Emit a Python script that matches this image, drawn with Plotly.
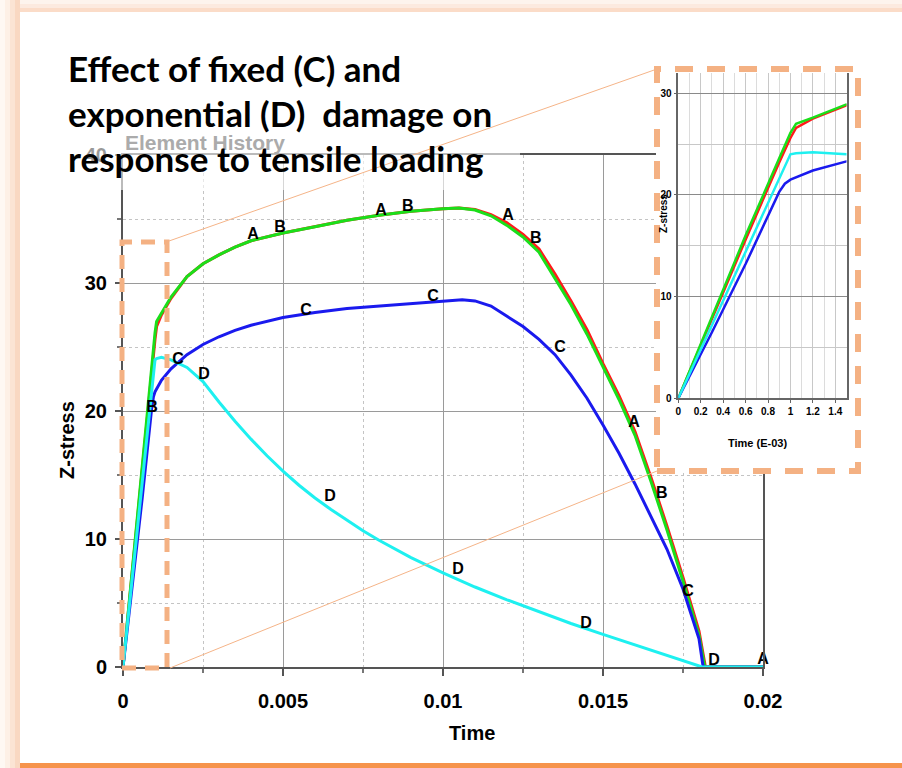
import plotly.graph_objects as go

W, H = 902, 768
FONT = "Liberation Sans, Arial, sans-serif"
NARROW = "Liberation Sans Narrow, Arial Narrow, Liberation Sans, Arial, sans-serif"

# ---------------- data (time in s, Z-stress) ----------------
t_A = [0, 0.0003, 0.0006, 0.0009, 0.001, 0.00105, 0.0012, 0.0015, 0.002, 0.0025, 0.003,
       0.0035, 0.004, 0.005, 0.006, 0.007, 0.008, 0.009, 0.01, 0.0105, 0.011, 0.0115,
       0.012, 0.0125, 0.013, 0.0135, 0.014, 0.0145, 0.015, 0.0155, 0.016, 0.0165, 0.017,
       0.0175, 0.018, 0.0181, 0.0182, 0.02]
z_A = [0, 7.8, 15.6, 23.2, 25.6, 26.6, 27.5, 28.8, 30.5, 31.5, 32.2,
       32.8, 33.3, 33.9, 34.4, 34.9, 35.3, 35.6, 35.8, 35.85, 35.75, 35.35,
       34.7, 33.8, 32.65, 30.7, 28.6, 26.35, 23.7, 21.2, 18.4, 14.8, 11.0,
       7.0, 2.8, 1.4, 0, 0]

t_B = [0, 0.0003, 0.0006, 0.0009, 0.001, 0.00105, 0.0012, 0.0015, 0.002, 0.0025, 0.003,
       0.0035, 0.004, 0.005, 0.006, 0.007, 0.008, 0.009, 0.01, 0.0105, 0.011, 0.0115,
       0.012, 0.0125, 0.013, 0.0135, 0.014, 0.0145, 0.015, 0.0155, 0.016, 0.0165, 0.017,
       0.0175, 0.018, 0.0181, 0.01818, 0.02]
z_B = [0, 8.0, 16.0, 23.6, 26.1, 27.0, 27.6, 28.9, 30.5, 31.5, 32.2,
       32.8, 33.3, 33.9, 34.4, 34.9, 35.3, 35.6, 35.8, 35.85, 35.7, 35.25,
       34.5, 33.6, 32.4, 30.4, 28.3, 26.0, 23.4, 20.9, 18.1, 14.5, 10.7,
       6.7, 2.5, 1.2, 0, 0]

t_C = [0, 0.0003, 0.0006, 0.0009, 0.00095, 0.001, 0.0012, 0.0015, 0.002, 0.0025, 0.003,
       0.0035, 0.004, 0.005, 0.006, 0.007, 0.008, 0.009, 0.01, 0.0106, 0.011, 0.0115,
       0.012, 0.0125, 0.013, 0.0135, 0.014, 0.0145, 0.015, 0.0155, 0.016, 0.0165, 0.017,
       0.0175, 0.018, 0.01813, 0.02]
z_C = [0, 6.5, 13.2, 20.3, 21.1, 21.5, 22.4, 23.3, 24.4, 25.2, 25.8,
       26.3, 26.7, 27.3, 27.7, 28.0, 28.2, 28.4, 28.6, 28.7, 28.6, 28.2,
       27.4, 26.6, 25.6, 24.4, 22.8, 21.0, 18.9, 16.7, 14.3, 11.8, 9.2,
       6.1, 2.2, 0, 0]

t_D = [0, 0.0003, 0.0006, 0.0009, 0.001, 0.00105, 0.0012, 0.0015, 0.002, 0.0025, 0.003,
       0.0035, 0.004, 0.0045, 0.005, 0.0055, 0.006, 0.0065, 0.007, 0.0075, 0.008, 0.009,
       0.01, 0.011, 0.012, 0.013, 0.014, 0.015, 0.016, 0.017, 0.018, 0.0181, 0.02]
z_D = [0, 7.2, 14.5, 21.7, 24.0, 24.1, 24.2, 24.0, 23.4, 22.3, 20.7,
       19.2, 17.8, 16.5, 15.3, 14.2, 13.2, 12.3, 11.45, 10.65, 9.9, 8.55,
       7.35, 6.25, 5.25, 4.3, 3.4, 2.55, 1.72, 0.88, 0.05, 0, 0]

# curve identification letters placed along each curve
lab_A_t = [0.00406, 0.00806, 0.01203, 0.01597, 0.02]
lab_A_z = [33.75, 35.6, 35.2, 19.1, 0.55]
lab_B_t = [0.00491, 0.0089, 0.0129, 0.00091, 0.01684]
lab_B_z = [34.3, 35.9, 33.4, 20.2, 13.5]
lab_C_t = [0.00572, 0.00969, 0.01366, 0.00172, 0.01766]
lab_C_z = [27.8, 28.9, 24.9, 24.0, 5.86]
lab_D_t = [0.00253, 0.00647, 0.01047, 0.01447, 0.01847]
lab_D_z = [22.8, 13.3, 7.6, 3.36, 0.47]

x_ticks = [0, 0.005, 0.01, 0.015, 0.02]
x_ticktext = ["0", "0.005", "0.01", "0.015", "0.02"]
y_ticks = [0, 10, 20, 30, 40]
y_ticktext = ["0", "10", "20", "30", "40"]

inset_x_ticks = [0, 0.2, 0.4, 0.6, 0.8, 1.0, 1.2, 1.4]
inset_x_ticktext = ["0", "0.2", "0.4", "0.6", "0.8", "1", "1.2", "1.4"]
inset_y_ticks = [0, 10, 20, 30]
inset_y_ticktext = ["0", "10", "20", "30"]

series = [("A", t_A, z_A, "#ff1a1a"), ("B", t_B, z_B, "#1adf1a"),
          ("C", t_C, z_C, "#1a1aee"), ("D", t_D, z_D, "#1ef0f0")]
labels = [("A", lab_A_t, lab_A_z), ("B", lab_B_t, lab_B_z),
          ("C", lab_C_t, lab_C_z), ("D", lab_D_t, lab_D_z)]


def px(x):
    return x / W


def py(y):
    return 1 - y / H


fig = go.Figure()

# main plot curves
for name, t, z, col in series:
    fig.add_trace(go.Scatter(x=t, y=z, mode="lines", name=name,
                             line=dict(color=col, width=3),
                             cliponaxis=False, hoverinfo="skip",
                             xaxis="x", yaxis="y"))
for name, t, z in labels:
    fig.add_trace(go.Scatter(x=t, y=z, mode="text", text=[name] * len(t),
                             textposition="middle center", cliponaxis=False,
                             textfont=dict(family=FONT, size=16, color="black", weight="bold"),
                             hoverinfo="skip", xaxis="x", yaxis="y"))

# white cover behind the inset
fig.add_trace(go.Scatter(x=[None], y=[None], mode="lines", xaxis="x2", yaxis="y2",
                         hoverinfo="skip"))

# inset curves (time in E-03)
for name, t, z, col in series:
    fig.add_trace(go.Scatter(x=[v * 1000 for v in t], y=z, mode="lines", name=name,
                             line=dict(color=col, width=2.5), hoverinfo="skip",
                             xaxis="x3", yaxis="y3"))

tickfont = dict(family=FONT, size=20, color="black", weight="bold")
inset_tickfont = dict(family=NARROW, size=10, color="black", weight="bold")

fig.update_layout(
    width=W, height=H, margin=dict(l=0, r=0, t=0, b=0, pad=0), autosize=False,
    paper_bgcolor="white", plot_bgcolor="white", showlegend=False,
    xaxis=dict(domain=[px(123), px(763)], range=[0, 0.02], anchor="y", automargin=False,
               tickmode="array", tickvals=x_ticks, ticktext=x_ticktext,
               showline=True, linecolor="#555", linewidth=2, mirror=True,
               showgrid=True, gridcolor="#9a9a9a", gridwidth=1.3, zeroline=False,
               ticks="outside", ticklen=7, tickwidth=1.5, tickcolor="#555",
               ticklabelstandoff=8,
               minor=dict(dtick=0.0025, showgrid=True, gridcolor="#c4c4c4",
                          griddash="dot", gridwidth=1, ticks="outside", ticklen=4,
                          tickcolor="#777"),
               tickfont=tickfont),
    yaxis=dict(domain=[py(667), py(155)], range=[0, 40], anchor="x", automargin=False,
               tickmode="array", tickvals=y_ticks, ticktext=y_ticktext,
               showline=True, linecolor="#555", linewidth=2, mirror=True,
               showgrid=True, gridcolor="#9a9a9a", gridwidth=1.3, zeroline=False,
               ticks="outside", ticklen=6, tickwidth=1.5, tickcolor="#555",
               ticklabelstandoff=4,
               minor=dict(dtick=5, showgrid=True, gridcolor="#c4c4c4",
                          griddash="dot", gridwidth=1, ticks="outside", ticklen=4,
                          tickcolor="#777"),
               tickfont=tickfont),
    xaxis2=dict(domain=[px(656), px(858)], range=[0, 1], anchor="y2", visible=False,
                automargin=False),
    yaxis2=dict(domain=[py(471), py(69)], range=[0, 1], anchor="x2", visible=False,
                automargin=False),
    xaxis3=dict(domain=[px(678.3), px(846.5)], range=[0, 1.5], anchor="y3",
                automargin=False,
                tickmode="array", tickvals=inset_x_ticks, ticktext=inset_x_ticktext,
                showline=True, linecolor="#666", linewidth=1.5, mirror=False,
                showgrid=True, gridcolor="#c8c8c8", gridwidth=1, zeroline=False,
                ticks="outside", ticklen=3, tickcolor="#666",
                minor=dict(dtick=0.1, showgrid=True, gridcolor="#dcdcdc", gridwidth=1),
                tickfont=inset_tickfont),
    yaxis3=dict(domain=[py(398.3), py(72.9)], range=[0, 32], anchor="x3",
                automargin=False,
                tickmode="array", tickvals=inset_y_ticks, ticktext=inset_y_ticktext,
                showline=True, linecolor="#666", linewidth=1.5, mirror=True,
                showgrid=True, gridcolor="#8a8a8a", gridwidth=1, zeroline=False,
                ticks="outside", ticklen=3, tickcolor="#666",
                minor=dict(dtick=5, showgrid=True, gridcolor="#c8c8c8", gridwidth=1),
                tickfont=inset_tickfont),
)

shapes = []
# slide frame: left shadow, top band, bottom orange bar
left_cols = ["#fef8f3", "#fdf0e6", "#fbe4d4", "#f9d8c2"]
for i, c in enumerate(left_cols):
    shapes.append(dict(type="rect", xref="paper", yref="paper", layer="below",
                       x0=px(i * 5), x1=px(i * 5 + 5), y0=0, y1=1,
                       line=dict(width=0), fillcolor=c))
top_cols = ["#fdf4ed", "#fceadf", "#fbdcc8"]
for i, c in enumerate(top_cols):
    shapes.append(dict(type="rect", xref="paper", yref="paper", layer="below",
                       x0=px(20), x1=1, y0=py(i * 4 + 4), y1=py(i * 4),
                       line=dict(width=0), fillcolor=c))
shapes.append(dict(type="rect", xref="paper", yref="paper", layer="below",
                   x0=px(20), x1=1, y0=0, y1=py(763),
                   line=dict(width=0), fillcolor="#f6944c"))
# translucent veil under the title text
shapes.append(dict(type="rect", xref="paper", yref="paper", layer="above",
                   x0=px(60), x1=px(520), y0=py(190), y1=py(30),
                   line=dict(width=0), fillcolor="rgba(255,255,255,0.6)"))
# connector lines
shapes.append(dict(type="line", xref="paper", yref="paper", layer="above",
                   x0=px(169), y0=py(241), x1=px(657), y1=py(69),
                   line=dict(color="#f5b488", width=1)))
shapes.append(dict(type="line", xref="paper", yref="paper", layer="above",
                   x0=px(170), y0=py(668), x1=px(657), y1=py(471),
                   line=dict(color="#f5b488", width=1)))
# dashed zoom boxes
shapes.append(dict(type="rect", xref="paper", yref="paper", layer="above",
                   x0=px(122), x1=px(167), y0=py(668), y1=py(242),
                   line=dict(color="#f4b183", width=5, dash="14px,9px")))
shapes.append(dict(type="rect", xref="paper", yref="paper", layer="above",
                   x0=px(657), x1=px(858), y0=py(471), y1=py(69),
                   line=dict(color="#f4b183", width=6, dash="18px,14px")))

annotations = [
    dict(text="Element History", x=px(205), y=py(142), xref="paper", yref="paper",
         showarrow=False, xanchor="center", yanchor="middle",
         font=dict(family=FONT, size=21, color="#ababab", weight="bold")),
    dict(text="Z-stress", x=px(67), y=py(440), xref="paper", yref="paper",
         showarrow=False, textangle=-90, xanchor="center", yanchor="middle",
         font=dict(family=FONT, size=20, color="black", weight="bold")),
    dict(text="Time", x=px(472), y=py(733), xref="paper", yref="paper",
         showarrow=False, xanchor="center", yanchor="middle",
         font=dict(family=FONT, size=20, color="black", weight="bold")),
    dict(text="Z-stress", x=px(664), y=py(214), xref="paper", yref="paper",
         showarrow=False, textangle=-90, xanchor="center", yanchor="middle",
         font=dict(family=FONT, size=10, color="black", weight="bold")),
    dict(text="Time (E-03)", x=px(757), y=py(443), xref="paper", yref="paper",
         showarrow=False, xanchor="center", yanchor="middle",
         font=dict(family=NARROW, size=11, color="black", weight="bold")),
]
title_lines = ["Effect of fixed (C) and",
               "exponential (D)\u00a0 damage on",
               "response to tensile loading"]
for i, line in enumerate(title_lines):
    annotations.append(dict(text=line, x=px(66), y=py(68 + 45 * i), xref="paper",
                            yref="paper", showarrow=False, xanchor="left",
                            yanchor="middle",
                            font=dict(family="Lato, Open Sans, sans-serif", size=35,
                                      color="black", weight="bold")))

fig.update_layout(shapes=shapes, annotations=annotations)
fig.write_html("out.html",
               post_script="document.body.style.margin='0';"
                           "document.body.style.padding='0';")
